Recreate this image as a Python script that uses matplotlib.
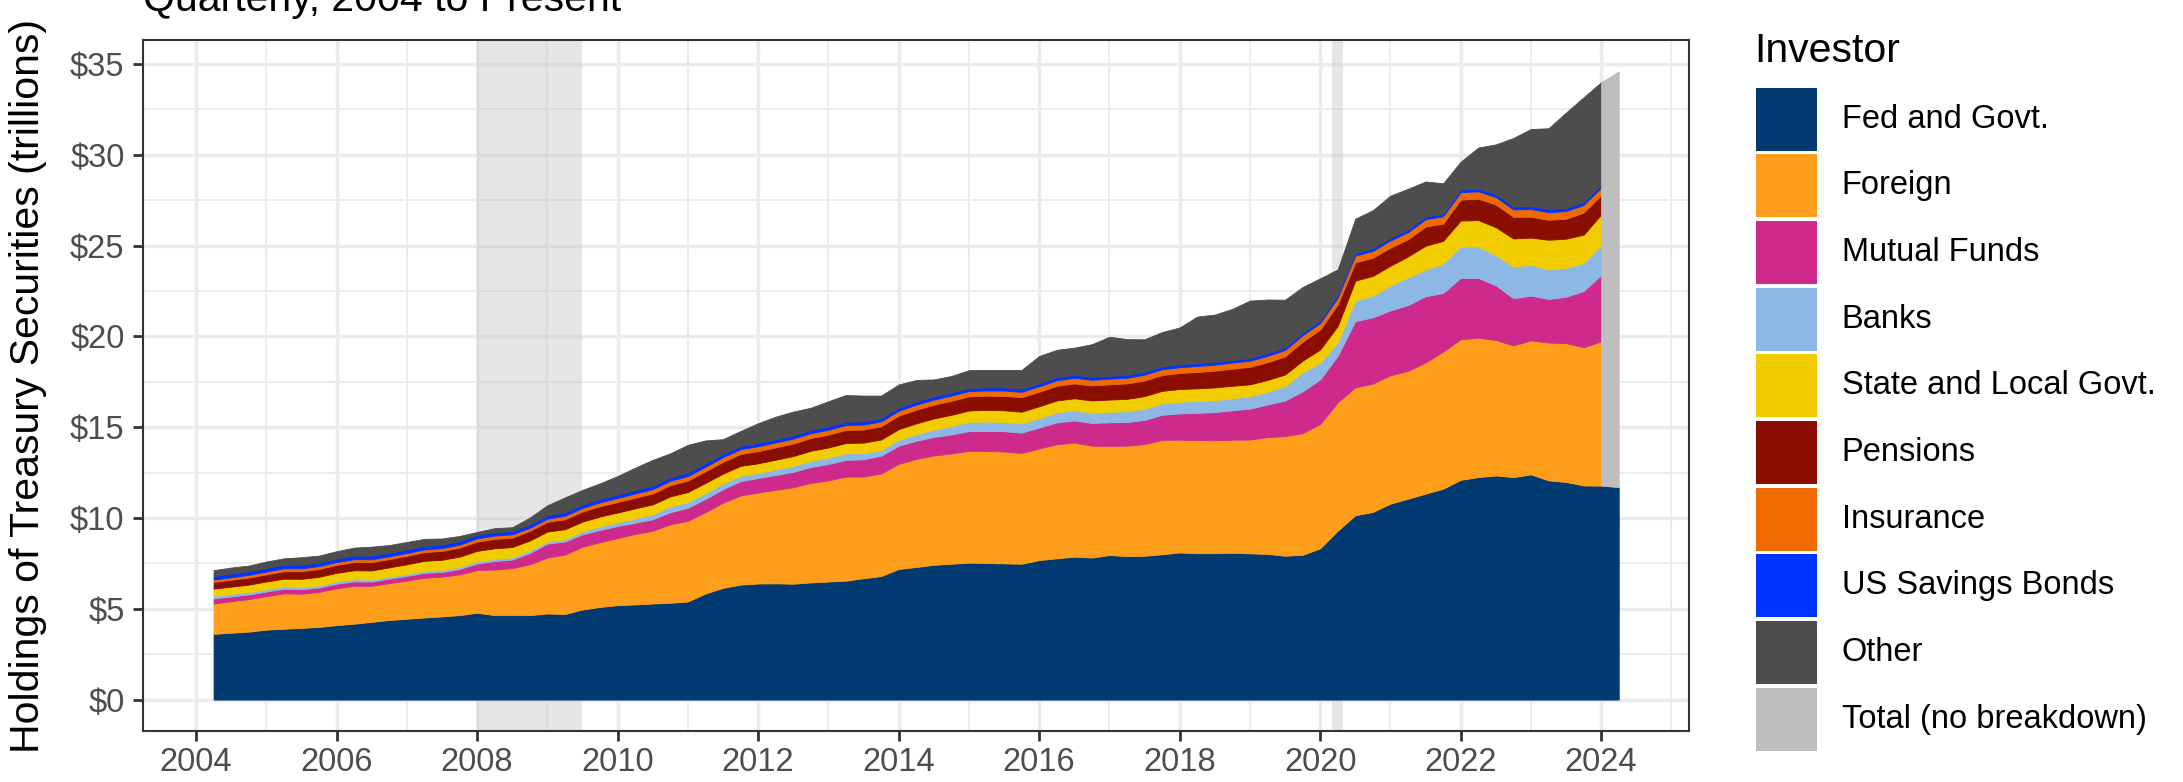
import numpy as np
import pandas as pd
import matplotlib
matplotlib.use("Agg")
import matplotlib.pyplot as plt
from matplotlib.patches import Rectangle

plt.rcParams['font.family'] = ['Liberation Sans', 'DejaVu Sans']

# ---------------- data (trillions of dollars, quarter-end) ----------------
quarters = pd.period_range('2004Q1', '2023Q4', freq='Q')
x = np.asarray(quarters.year + quarters.quarter / 4.0, dtype=float)

investors = ["Fed and Govt.", "Foreign", "Mutual Funds", "Banks",
             "State and Local Govt.", "Pensions", "Insurance",
             "US Savings Bonds", "Other", "Total (no breakdown)"]
colors = ["#003A70", "#FF9E1B", "#CE2A8C", "#8DB8E6", "#F1CD00",
          "#8A0E00", "#EF6B00", "#0033FF", "#4D4D4D", "#BEBEBE"]

fed = [3.62, 3.68, 3.74, 3.85,  3.90, 3.95, 4.00, 4.10,  4.18, 4.28, 4.38, 4.45,
       4.52, 4.58, 4.65, 4.78,  4.65, 4.65, 4.65, 4.74,  4.71, 4.96, 5.10, 5.20,
       5.24, 5.29, 5.33, 5.40,  5.84, 6.15, 6.33, 6.39,  6.40, 6.38, 6.45, 6.50,
       6.55, 6.68, 6.80, 7.19,  7.30, 7.42, 7.48, 7.54,  7.52, 7.50, 7.48, 7.68,
       7.78, 7.87, 7.82, 7.96,  7.90, 7.92, 8.00, 8.10,  8.06, 8.06, 8.08, 8.05,
       8.02, 7.92, 7.97, 8.33,  9.30, 10.15, 10.33, 10.79, 11.06, 11.34, 11.61, 12.10,
       12.25, 12.34, 12.25, 12.40, 12.07, 11.98, 11.79, 11.78]
foreign = [1.67, 1.74, 1.79, 1.85,  1.95, 1.88, 1.93, 2.03,  2.08, 1.98, 2.03, 2.10,
           2.19, 2.19, 2.24, 2.35,  2.51, 2.59, 2.80, 3.08,  3.27, 3.46, 3.57, 3.69,
           3.88, 4.01, 4.32, 4.44,  4.48, 4.69, 4.91, 5.01,  5.15, 5.31, 5.48, 5.57,
           5.73, 5.60, 5.65, 5.79,  5.95, 6.02, 6.07, 6.16,  6.17, 6.16, 6.10, 6.15,
           6.28, 6.28, 6.16, 6.01,  6.08, 6.15, 6.30, 6.21,  6.23, 6.22, 6.23, 6.27,
           6.43, 6.59, 6.70, 6.84,  7.07, 7.04, 7.07, 7.07,  7.04, 7.22, 7.55, 7.74,
           7.68, 7.46, 7.25, 7.38,  7.59, 7.65, 7.61, 7.95]
mutual_funds = [0.28, 0.26, 0.26, 0.25,  0.25, 0.25, 0.24, 0.25,  0.25, 0.24, 0.25, 0.26,
                0.27, 0.26, 0.30, 0.36,  0.47, 0.47, 0.62, 0.77,  0.72, 0.68, 0.67, 0.67,
                0.62, 0.63, 0.67, 0.72,  0.73, 0.75, 0.79, 0.80,  0.82, 0.85, 0.88, 0.90,
                0.92, 0.95, 0.98, 1.00,  1.00, 1.02, 1.05, 1.08,  1.10, 1.12, 1.12, 1.15,
                1.20, 1.22, 1.25, 1.30,  1.30, 1.33, 1.38, 1.45,  1.50, 1.55, 1.62, 1.70,
                1.80, 1.95, 2.30, 2.46,  2.56, 3.65, 3.65, 3.57,  3.62, 3.65, 3.23, 3.38,
                3.29, 3.01, 2.60, 2.46,  2.40, 2.55, 3.10, 3.65]
banks = [0.14, 0.14, 0.13, 0.13,  0.13, 0.12, 0.12, 0.12,  0.12, 0.11, 0.11, 0.11,
         0.11, 0.11, 0.11, 0.12,  0.12, 0.12, 0.13, 0.11,  0.13, 0.16, 0.20, 0.20,
         0.24, 0.27, 0.32, 0.32,  0.32, 0.30, 0.30, 0.28,  0.31, 0.33, 0.34, 0.35,
         0.36, 0.34, 0.31, 0.32,  0.36, 0.41, 0.46, 0.51,  0.52, 0.51, 0.51, 0.52,
         0.55, 0.56, 0.57, 0.57,  0.60, 0.62, 0.63, 0.64,  0.65, 0.66, 0.67, 0.68,
         0.70, 0.80, 1.05, 0.92,  0.73, 1.12, 1.19, 1.37,  1.53, 1.46, 1.62, 1.73,
         1.73, 1.65, 1.74, 1.70,  1.62, 1.60, 1.53, 1.65]
state_local = [0.40, 0.40, 0.41, 0.42,  0.43, 0.45, 0.47, 0.48,  0.49, 0.50, 0.51, 0.53,
               0.55, 0.56, 0.57, 0.58,  0.58, 0.57, 0.56, 0.55,  0.55, 0.54, 0.54, 0.54,
               0.55, 0.55, 0.55, 0.55,  0.56, 0.55, 0.54, 0.53,  0.53, 0.54, 0.55, 0.56,
               0.57, 0.58, 0.58, 0.59,  0.60, 0.61, 0.62, 0.63,  0.64, 0.64, 0.64, 0.65,
               0.66, 0.66, 0.67, 0.68,  0.68, 0.69, 0.69, 0.70,  0.70, 0.70, 0.68, 0.66,
               0.65, 0.64, 0.64, 0.73,  0.91, 1.11, 1.09, 1.09,  1.15, 1.32, 1.25, 1.43,
               1.45, 1.55, 1.55, 1.50,  1.64, 1.60, 1.57, 1.68]
pensions = [0.37, 0.38, 0.39, 0.40,  0.41, 0.42, 0.43, 0.44,  0.45, 0.46, 0.46, 0.47,
            0.48, 0.49, 0.50, 0.51,  0.52, 0.52, 0.53, 0.54,  0.55, 0.56, 0.57, 0.58,
            0.59, 0.60, 0.62, 0.63,  0.64, 0.65, 0.66, 0.67,  0.68, 0.69, 0.70, 0.71,
            0.72, 0.72, 0.73, 0.74,  0.75, 0.76, 0.77, 0.78,  0.78, 0.79, 0.80, 0.80,
            0.81, 0.82, 0.83, 0.84,  0.85, 0.86, 0.87, 0.88,  0.90, 0.92, 0.94, 0.96,
            0.98, 1.00, 1.05, 1.09,  1.20, 1.00, 1.00, 1.00,  0.95, 1.06, 0.95, 1.15,
            1.18, 1.25, 1.19, 1.15,  1.10, 1.10, 1.22, 1.06]
insurance = [0.13, 0.14, 0.15, 0.15,  0.16, 0.16, 0.16, 0.16,  0.16, 0.16, 0.15, 0.15,
             0.15, 0.15, 0.16, 0.18,  0.18, 0.18, 0.17, 0.17,  0.19, 0.20, 0.21, 0.22,
             0.23, 0.24, 0.24, 0.25,  0.25, 0.26, 0.26, 0.27,  0.27, 0.27, 0.27, 0.27,
             0.27, 0.27, 0.27, 0.27,  0.28, 0.28, 0.29, 0.29,  0.29, 0.30, 0.30, 0.30,
             0.30, 0.31, 0.31, 0.31,  0.31, 0.32, 0.32, 0.32,  0.33, 0.33, 0.34, 0.34,
             0.35, 0.35, 0.36, 0.36,  0.37, 0.38, 0.38, 0.39,  0.39, 0.40, 0.40, 0.41,
             0.41, 0.41, 0.41, 0.42,  0.42, 0.42, 0.42, 0.42]
savings_bonds = [0.20, 0.20, 0.20, 0.20,  0.20, 0.20, 0.20, 0.20,  0.20, 0.20, 0.20, 0.20,
                 0.20, 0.20, 0.20, 0.19,  0.19, 0.19, 0.19, 0.19,  0.19, 0.19, 0.19, 0.19,
                 0.19, 0.19, 0.19, 0.19,  0.19, 0.19, 0.18, 0.18,  0.18, 0.18, 0.18, 0.18,
                 0.18, 0.18, 0.18, 0.18,  0.18, 0.18, 0.17, 0.17,  0.17, 0.17, 0.17, 0.17,
                 0.17, 0.17, 0.16, 0.16,  0.16, 0.16, 0.16, 0.16,  0.16, 0.16, 0.15, 0.15,
                 0.15, 0.15, 0.15, 0.15,  0.15, 0.15, 0.15, 0.15,  0.15, 0.15, 0.15, 0.15,
                 0.15, 0.16, 0.16, 0.17,  0.17, 0.17, 0.17, 0.17]
other = [0.32, 0.33, 0.31, 0.35,  0.35, 0.41, 0.38, 0.39,  0.44, 0.49, 0.42, 0.41,
         0.38, 0.33, 0.28, 0.16,  0.22, 0.20, 0.37, 0.55,  0.82, 0.80, 0.86, 1.02,
         1.23, 1.42, 1.32, 1.53,  1.26, 0.80, 0.82, 1.09,  1.24, 1.31, 1.22, 1.39,
         1.47, 1.42, 1.24, 1.27,  1.18, 0.93, 0.91, 0.98,  0.96, 0.96, 1.03, 1.50,
         1.51, 1.49, 1.80, 2.15,  1.97, 1.79, 1.89, 2.03,  2.56, 2.60, 2.81, 3.16,
         2.95, 2.62, 2.50, 2.32,  1.40, 1.88, 2.09, 2.32,  2.24, 1.93, 1.67, 1.53,
         2.26, 2.74, 3.78, 4.24,  4.45, 5.26, 5.76, 5.64]

# 2024 Q1: only the Fed/Govt figure and the total are available
last_quarter = pd.Period('2024Q1', freq='Q')
fed_2024q1 = 11.70
total_2024q1 = 34.59

# ---------------- figure ----------------
W, H = 2183, 782
fig = plt.figure(figsize=(W / 100, H / 100), dpi=100)
ax = fig.add_axes([143.3 / W, 1 - 731 / H, (1689 - 143.3) / W, (731 - 40) / H])

series = [fed, foreign, mutual_funds, banks, state_local, pensions,
          insurance, savings_bonds, other]
polys = ax.stackplot(x, *series, colors=colors[:9], zorder=3)
for p in polys:
    p.set_edgecolor('face')
    p.set_linewidth(0.6)

x_last = [x[-1], last_quarter.year + last_quarter.quarter / 4.0]
total_dec23 = sum(s[-1] for s in series)
ax.fill_between(x_last, 0, [fed[-1], fed_2024q1], color=colors[0], lw=0.6, zorder=3)
ax.fill_between(x_last, [fed[-1], fed_2024q1], [total_dec23, total_2024q1],
                color=colors[9], lw=0.6, zorder=3)

# recession shading
ax.axvspan(2008.0, 2009.5, color='#C8C8C8', alpha=0.45, lw=0, zorder=1)
ax.axvspan(2020.17, 2020.33, color='#C8C8C8', alpha=0.45, lw=0, zorder=1)

# axes styling (theme_bw-like)
ax.set_xlim(2003.25, 2025.25)
ax.set_ylim(-1.73, 36.32)
ax.set_xticks(np.arange(2004, 2025, 2))
ax.set_xticks(np.arange(2005, 2026, 2), minor=True)
ax.set_yticks(np.arange(0, 36, 5))
ax.set_yticks(np.arange(2.5, 36, 5), minor=True)
ax.set_yticklabels([f"${v}" for v in range(0, 36, 5)])
ax.grid(which='major', color='#EBEBEB', lw=2.5, zorder=0)
ax.grid(which='minor', color='#EBEBEB', lw=1.3, zorder=0)
ax.set_axisbelow(True)
ax.tick_params(which='major', length=7.5, width=2.0, color='#333333',
               labelsize=23.5, labelcolor='#4D4D4D', pad=4)
ax.tick_params(axis='y', which='major', pad=6)
ax.tick_params(which='minor', length=0)
for s in ax.spines.values():
    s.set_color('#333333')
    s.set_linewidth(1.5)
    s.set_zorder(5)

fig.text(30 / W, 0.5 * (2 - (40 + 731) / H) - 0.5 + 0.0, "", fontsize=1)
fig.text(28 / W, 1 - 386 / H, "Holdings of Treasury Securities (trillions)",
         rotation=90, ha='center', va='center', fontsize=29.5, color='black')

# subtitle (partly cut off at the top)
fig.text(143 / W, 1 - 11 / H, "Quarterly, 2004 to Present",
         ha='left', va='baseline', fontsize=29.5, color='black')

# legend
fig.text(1754 / W, 1 - 62 / H, "Investor", ha='left', va='baseline',
         fontsize=29.5, color='black')
key_top0, pitch, key_h, key_w = 87.5, 66.7, 63.0, 61.0
for i, (lab, col) in enumerate(zip(investors, colors)):
    top = key_top0 + i * pitch
    fig.patches.append(Rectangle((1756 / W, 1 - (top + key_h) / H), key_w / W, key_h / H,
                                 transform=fig.transFigure, facecolor=col,
                                 edgecolor='none'))
    fig.text(1841.6 / W, 1 - (top + key_h / 2) / H, lab, ha='left', va='center',
             fontsize=23.5, color='black')

fig.savefig("out.png", dpi=100)
